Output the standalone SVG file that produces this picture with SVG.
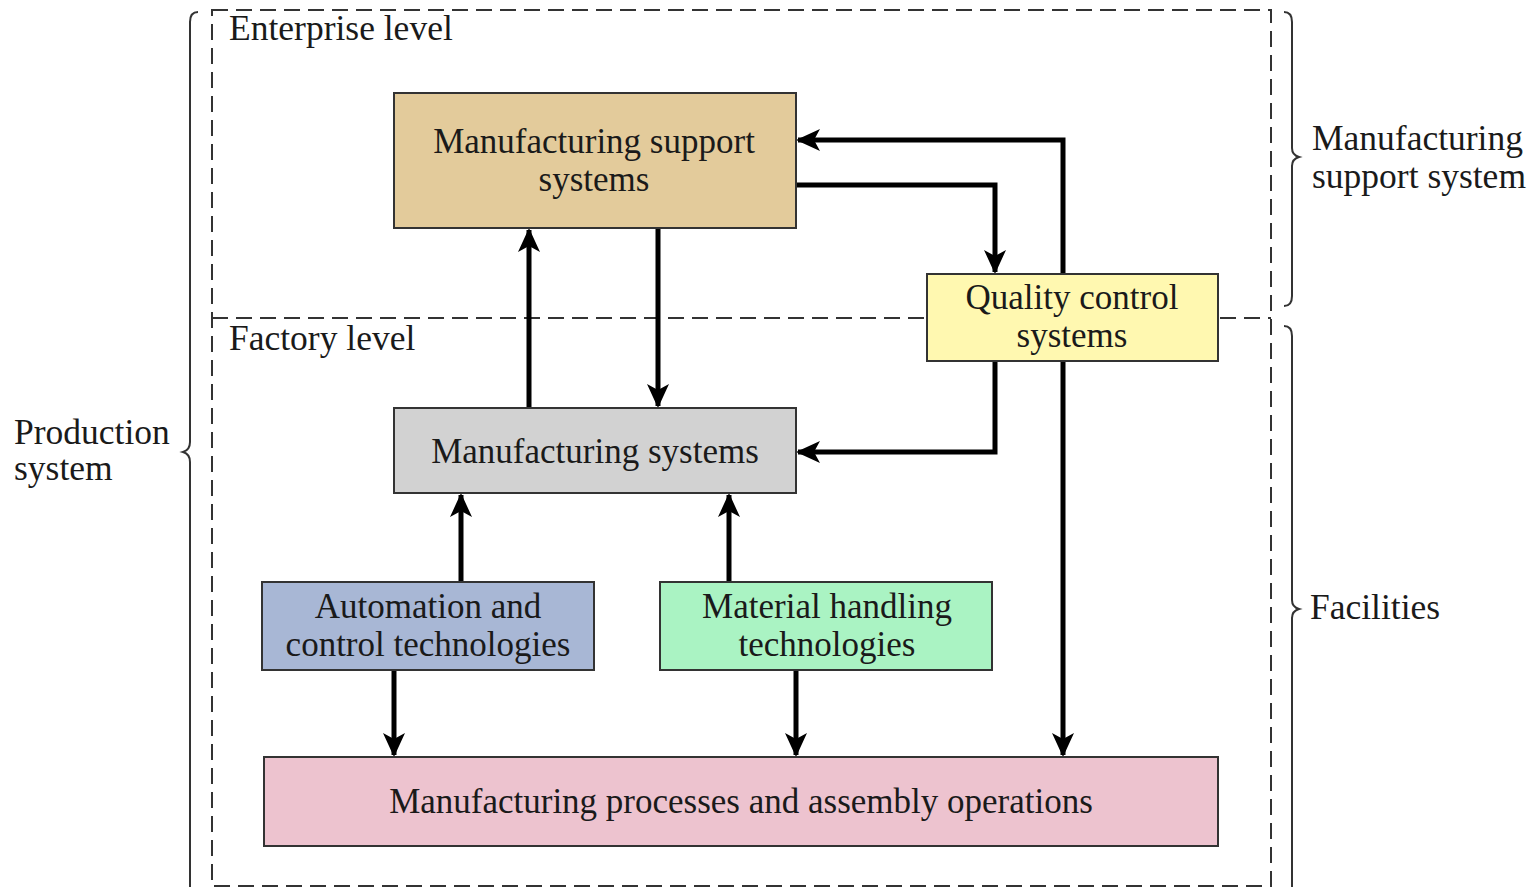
<svg xmlns="http://www.w3.org/2000/svg" width="1532" height="887" viewBox="0 0 1532 887">
<defs>
<style>
.dash{fill:none;stroke:#333;stroke-width:2;stroke-dasharray:16,8}
.brace{fill:none;stroke:#333;stroke-width:2}
.box{stroke:#333;stroke-width:2}
.t{font-family:"Liberation Serif","Times New Roman",serif;font-size:35px;fill:#1a1a1a;text-anchor:middle}
.lbl{font-family:"Liberation Serif","Times New Roman",serif;font-size:35.5px;fill:#1a1a1a}
.c{fill:none;stroke:#000;stroke-width:5;marker-end:url(#ah)}
</style>
<marker id="ah" viewBox="0 0 24 24" refX="22" refY="12" markerWidth="24" markerHeight="24" markerUnits="userSpaceOnUse" orient="auto">
<path d="M0,1 L24,12 L0,23 L6,12 Z" fill="#000"/>
</marker>
</defs>
<rect width="1532" height="887" fill="#fff"/>
<g id="frame">
<rect class="dash" x="212" y="10" width="1059" height="876"/>
<line class="dash" x1="212" y1="318" x2="1271" y2="318"/>
<text class="lbl" x="229" y="40">Enterprise level</text>
<text class="lbl" x="229" y="350">Factory level</text>
</g>
<g id="brace-production">
<path class="brace" d="M198,12 Q190,12 190,22 L190,442 Q190,450 183,452 Q190,454 190,462 L190,887"/>
<text class="lbl" x="14" y="444">Production</text>
<text class="lbl" x="14" y="480">system</text>
</g>
<g id="brace-support">
<path class="brace" d="M1284,12 Q1292,12 1292,22 L1292,148 Q1292,155 1299,157 Q1292,159 1292,166 L1292,296 Q1292,306 1284,306"/>
<text class="lbl" x="1312" y="150">Manufacturing</text>
<text class="lbl" x="1312" y="188">support system</text>
</g>
<g id="brace-facilities">
<path class="brace" d="M1284,326 Q1292,326 1292,336 L1292,600 Q1292,607 1299,609 Q1292,611 1292,618 L1292,887"/>
<text class="lbl" x="1310" y="619">Facilities</text>
</g>
<g id="connectors">
<path class="c" d="M1063,274 L1063,140 L798,140"/>
<path class="c" d="M796,185 L995,185 L995,272"/>
<path class="c" d="M529,408 L529,230"/>
<path class="c" d="M658,228 L658,406"/>
<path class="c" d="M995,361 L995,452 L798,452"/>
<path class="c" d="M1063,361 L1063,755"/>
<path class="c" d="M461,582 L461,495"/>
<path class="c" d="M729,582 L729,495"/>
<path class="c" d="M394,670 L394,755"/>
<path class="c" d="M796,670 L796,755"/>
</g>
<g id="mss">
<rect class="box" x="394" y="93" width="402" height="135" fill="#E3CB9B"/>
<text class="t" x="594" y="153">Manufacturing support</text>
<text class="t" x="594" y="191">systems</text>
</g>
<g id="qc">
<rect class="box" x="927" y="274" width="291" height="87" fill="#FFF8B0"/>
<text class="t" x="1072" y="309">Quality control</text>
<text class="t" x="1072" y="347">systems</text>
</g>
<g id="ms">
<rect class="box" x="394" y="408" width="402" height="85" fill="#D2D2D2"/>
<text class="t" x="595" y="463">Manufacturing systems</text>
</g>
<g id="act">
<rect class="box" x="262" y="582" width="332" height="88" fill="#A8B7D5"/>
<text class="t" x="428" y="618">Automation and</text>
<text class="t" x="428" y="656">control technologies</text>
</g>
<g id="mht">
<rect class="box" x="660" y="582" width="332" height="88" fill="#AAF3C3"/>
<text class="t" x="827" y="618">Material handling</text>
<text class="t" x="827" y="656">technologies</text>
</g>
<g id="mpao">
<rect class="box" x="264" y="757" width="954" height="89" fill="#EDC3CF"/>
<text class="t" x="741" y="813">Manufacturing processes and assembly operations</text>
</g>
</svg>
